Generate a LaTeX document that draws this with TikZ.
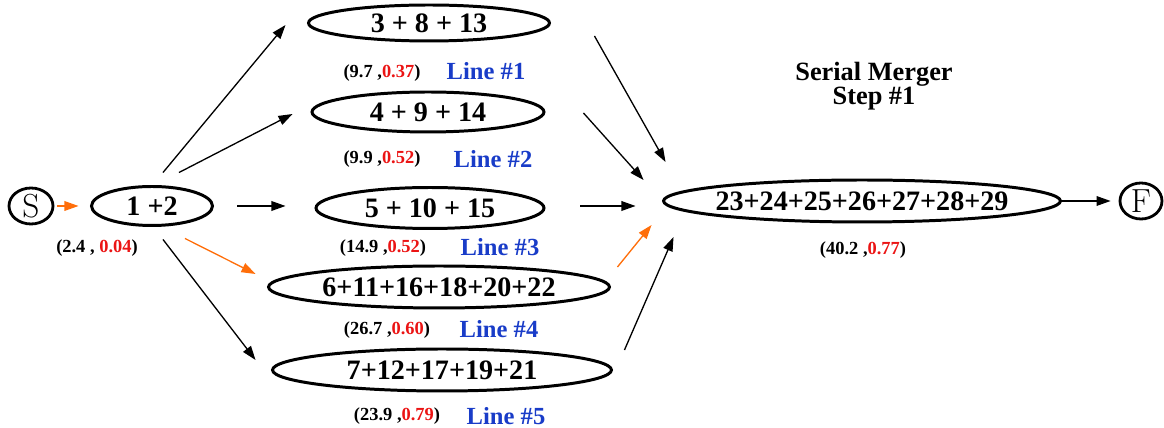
\documentclass[tikz,border=0pt]{standalone}
\usepackage{fontspec}
\newfontfamily\garfont{Liberation Serif}
\usetikzlibrary{shapes.geometric,arrows.meta}
\definecolor{numred}{RGB}{235,20,20}
\definecolor{lineblue}{RGB}{25,60,200}
\definecolor{feedorange}{RGB}{255,110,10}

\begin{document}
\begin{tikzpicture}[x=0.02cm,y=-0.02cm,
	stage/.style={shape=ellipse, draw, line width=1.7pt, inner sep=0pt,
		font=\garfont\bfseries\fontsize{16}{18}\selectfont},
	terminal/.style={shape=ellipse, draw, line width=1.6pt, inner sep=0pt,
		minimum width=0.88cm, minimum height=0.72cm, font=\fontsize{19}{20}\selectfont},
	cost/.style={font=\garfont\bfseries\fontsize{10.5}{12}\selectfont},
	tag/.style={font=\garfont\bfseries\fontsize{14}{16}\selectfont, text=lineblue},
	arr/.style={-{Triangle[length=8pt,width=5.5pt]}, line width=0.75pt},
	hot/.style={arr, feedorange}]
	\useasboundingbox (0,0) rectangle (1164,428);
	
	% source, first stage and sink
	\node[terminal] (S) at (31,206) {S};
	\node[stage, minimum width=2.42cm, minimum height=0.78cm] (n12) at (152,206) {1 +2};
	\node[terminal, minimum width=0.84cm] (F) at (1141,201) {F};
	
	% the five lines
	\node[stage, minimum width=4.82cm, minimum height=0.72cm] (l1) at (429,23) {3 + 8 + 13};
	\node[stage, minimum width=4.64cm, minimum height=0.80cm] (l2) at (428,112) {4 + 9 + 14};
	\node[stage, minimum width=4.56cm, minimum height=0.82cm] (l3) at (430,208) {5 + 10 + 15};
	\node[stage, minimum width=6.82cm, minimum height=0.84cm] (l4) at (439,287) {6+11+16+18+20+22};
	\node[stage, minimum width=6.78cm, minimum height=0.84cm] (l5) at (442,370) {7+12+17+19+21};
	\node[stage, inner xsep=-5pt, minimum width=7.94cm, minimum height=0.84cm] (merge) at (862,201) {23+24+25+26+27+28+29};
	
	% costs and line tags
	\node[cost] (c12) at (97,248) {(2.4 , \textcolor{numred}{0.04})};
	\node[cost] (c1) at (382,73) {(9.7 ,\textcolor{numred}{0.37})};
	\node[tag] (t1) at (486,71) {Line \#1};
	\node[cost] (c2) at (382,159) {(9.9 ,\textcolor{numred}{0.52})};
	\node[tag] (t2) at (493,159) {Line \#2};
	\node[cost] (c3) at (383,248) {(14.9 ,\textcolor{numred}{0.52})};
	\node[tag] (t3) at (500,247) {Line \#3};
	\node[cost] (c4) at (387,330) {(26.7 ,\textcolor{numred}{0.60})};
	\node[tag] (t4) at (499,329) {Line \#4};
	\node[cost] (c5) at (397,416) {(23.9 ,\textcolor{numred}{0.79})};
	\node[tag] (t5) at (506,416) {Line \#5};
	\node[cost] (cm) at (863,250) {(40.2 ,\textcolor{numred}{0.77})};
	\node[align=center, font=\garfont\bfseries\fontsize{15}{14}\selectfont] (title) at (874,86) {Serial Merger\\Step \#1};
	
	% split
	\draw[hot, shorten <=0.06cm, shorten >=0.23cm] (S.east) -- (S.east -| n12.west);
	\draw[arr] ([shift={(11,-12.5)}]n12.north) -- ([shift={(-21.5,2)}]l1.west);
	\draw[arr] ([shift={(27,-12.5)}]n12.north) -- ([shift={(-18,2)}]l2.west);
	\draw[arr, shorten <=0.47cm, shorten >=0.58cm] (n12.east) -- (n12.east -| l3.west);
	\draw[hot] ([shift={(33,11.5)}]n12.south) -- ([shift={(-11.5,-13)}]l4.west);
	\draw[arr] ([shift={(11,12.5)}]n12.south) -- ([shift={(-15.5,-10)}]l5.west);
	
	% merge
	\draw[arr] ([shift={(43.5,13)}]l1.east) -- ([shift={(3.5,-39)}]merge.west);
	\draw[arr] ([shift={(38,1)}]l2.east) -- ([shift={(-18.5,-21)}]merge.west);
	\draw[arr] ([shift={(35,-2)}]l3.east) -- ([shift={(-26.5,5)}]merge.west);
	\draw[hot] ([shift={(6.5,-20)}]l4.east) -- ([shift={(-10.5,24)}]merge.west);
	\draw[arr] ([shift={(11.5,-20)}]l5.east) -- ([shift={(11.5,36)}]merge.west);
	\draw[arr, shorten >=0.16cm] (merge.east) -- (F.west);
\end{tikzpicture}
\end{document}
